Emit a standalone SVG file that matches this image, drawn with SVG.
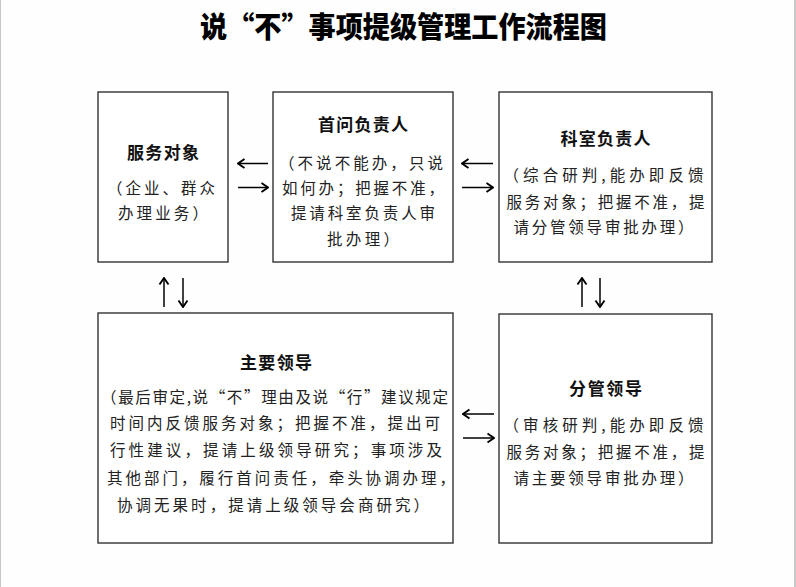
<svg xmlns="http://www.w3.org/2000/svg" width="796" height="587" viewBox="0 0 796 587">
<style>
.box{fill:#fff;stroke:#333;stroke-width:1.4}
.hd{font-family:"Noto Sans CJK SC",sans-serif;font-size:17px;font-weight:bold;fill:#111}
.tx{font-family:"Noto Sans CJK SC",sans-serif;font-size:15.5px;fill:#222}
.ttl{font-family:"Noto Sans CJK SC",serif;font-size:29px;font-weight:900;fill:#000}
.cn{stroke:#000;stroke-width:1.5;fill:none;marker-end:url(#ah)}
</style>
<defs>
<marker id="ah" markerUnits="userSpaceOnUse" markerWidth="10" markerHeight="12" viewBox="0 0 10 12" refX="9" refY="6" orient="auto">
<path d="M2.5,1.5 L9,6 L2.5,10.5" fill="none" stroke="#000" stroke-width="1.9" stroke-linejoin="miter"/>
</marker>
</defs>
<rect x="0" y="0" width="796" height="587" fill="#fefefe"/>
<rect x="0" y="0" width="1" height="587" fill="#c8c8c8"/>
<rect x="794" y="0" width="2" height="587" fill="#c8c8c8"/>
<text class="ttl" x="403.5" y="38" text-anchor="middle" textLength="407" lengthAdjust="spacingAndGlyphs">说“不”事项提级管理工作流程图</text>
<g id="node-fuwuduixiang">
<rect class="box" x="98" y="92" width="130" height="170"/>
<text class="hd" x="163" y="158.5" text-anchor="middle" textLength="72">服务对象</text>
<text class="tx" x="161" y="193.8" text-anchor="middle" textLength="108">（企业、群众</text>
<text class="tx" x="163" y="218.8" text-anchor="middle" textLength="90">办理业务）</text>
</g>
<g id="node-shouwen">
<rect class="box" x="273" y="92" width="180" height="170"/>
<text class="hd" x="363" y="130.5" text-anchor="middle" textLength="90">首问负责人</text>
<text class="tx" x="361" y="168.8" text-anchor="middle" textLength="164">（不说不能办，只说</text>
<text class="tx" x="363" y="193.8" text-anchor="middle" textLength="162">如何办；把握不准，</text>
<text class="tx" x="363" y="219.3" text-anchor="middle" textLength="144">提请科室负责人审</text>
<text class="tx" x="363" y="244.8" text-anchor="middle" textLength="72">批办理）</text>
</g>
<g id="node-keshi">
<rect class="box" x="499" y="92" width="213" height="170"/>
<text class="hd" x="605.5" y="144.8" text-anchor="middle" textLength="90">科室负责人</text>
<text class="tx" x="603.5" y="180.8" text-anchor="middle" textLength="200">（综合研判,能办即反馈</text>
<text class="tx" x="605.5" y="207.8" text-anchor="middle" textLength="198">服务对象；把握不准，提</text>
<text class="tx" x="603.5" y="232.8" text-anchor="middle" textLength="180">请分管领导审批办理）</text>
</g>
<g id="node-zhuyao">
<rect class="box" x="98" y="313" width="355" height="230"/>
<text class="hd" x="276" y="368.5" text-anchor="middle" textLength="72">主要领导</text>
<text class="tx" x="101" y="402.5" textLength="347">（最后审定,说“不”理由及说“行”建议规定</text>
<text class="tx" x="110" y="429.1" textLength="330">时间内反馈服务对象；把握不准，提出可</text>
<text class="tx" x="110" y="455.8" textLength="332">行性建议，提请上级领导研究；事项涉及</text>
<text class="tx" x="107" y="483.8" textLength="348">其他部门，履行首问责任，牵头协调办理，</text>
<text class="tx" x="117" y="510.8" textLength="312">协调无果时，提请上级领导会商研究）</text>
</g>
<g id="node-fenguan">
<rect class="box" x="499" y="314" width="213" height="229"/>
<text class="hd" x="605.5" y="394.5" text-anchor="middle" textLength="73">分管领导</text>
<text class="tx" x="603.5" y="430.8" text-anchor="middle" textLength="200">（审核研判,能办即反馈</text>
<text class="tx" x="605.5" y="457.8" text-anchor="middle" textLength="198">服务对象；把握不准，提</text>
<text class="tx" x="603.5" y="483.8" text-anchor="middle" textLength="180">请主要领导审批办理）</text>
</g>
<g id="connectors">
<line class="cn" x1="268" y1="163.5" x2="238" y2="163.5"/>
<line class="cn" x1="238" y1="187.5" x2="268" y2="187.5"/>
<line class="cn" x1="493" y1="163.5" x2="462" y2="163.5"/>
<line class="cn" x1="462" y1="187.5" x2="493" y2="187.5"/>
<line class="cn" x1="494" y1="414" x2="463" y2="414"/>
<line class="cn" x1="463" y1="438" x2="494" y2="438"/>
<line class="cn" x1="164" y1="307" x2="164" y2="278"/>
<line class="cn" x1="183" y1="278" x2="183" y2="307"/>
<line class="cn" x1="582" y1="307" x2="582" y2="278"/>
<line class="cn" x1="600" y1="278" x2="600" y2="307"/>
</g>
</svg>
